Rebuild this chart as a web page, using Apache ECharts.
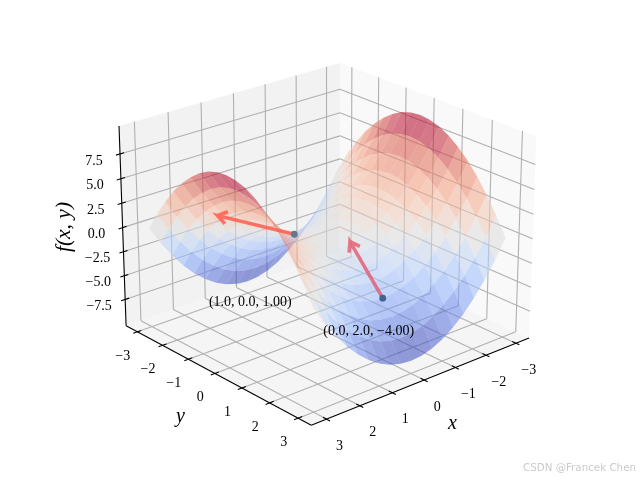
<!DOCTYPE html>
<html>
<head>
<meta charset="utf-8">
<style>html,body{margin:0;padding:0;background:#fff}#c{width:640px;height:480px}</style>
<script src="https://cdn.jsdelivr.net/npm/echarts@6/dist/echarts.min.js"></script>
</head>
<body>
<div id="c"></div>
<script>
// ---------- data ----------
const xTicks = [-3, -2, -1, 0, 1, 2, 3];
const yTicks = [-3, -2, -1, 0, 1, 2, 3];
const zTicks = [-7.5, -5, -2.5, 0, 2.5, 5, 7.5];
const zTickLabels = ['\u22127.5', '\u22125.0', '\u22122.5', '0.0', '2.5', '5.0', '7.5'];
const xTickLabels = ['\u22123', '\u22122', '\u22121', '0', '1', '2', '3'];
const yTickLabels = ['\u22123', '\u22122', '\u22121', '0', '1', '2', '3'];
const gridX = [-3, -2.67, -2.33, -2, -1.67, -1.33, -1, -0.67, -0.33, 0, 0.33, 0.67, 1, 1.33, 1.67, 2, 2.33, 2.67, 3];
const gridY = [-3, -2.67, -2.33, -2, -1.67, -1.33, -1, -0.67, -0.33, 0, 0.33, 0.67, 1, 1.33, 1.67, 2, 2.33, 2.67, 3];
const row0 = [0, 1.89, 3.56, 5, 6.22, 7.22, 8, 8.56, 8.89, 9, 8.89, 8.56, 8, 7.22, 6.22, 5, 3.56, 1.89, 0];
const row1 = [-1.89, 0, 1.67, 3.11, 4.33, 5.33, 6.11, 6.67, 7, 7.11, 7, 6.67, 6.11, 5.33, 4.33, 3.11, 1.67, 0, -1.89];
const row2 = [-3.56, -1.67, 0, 1.44, 2.66, 3.66, 4.44, 5, 5.33, 5.44, 5.33, 5, 4.44, 3.66, 2.66, 1.44, 0, -1.67, -3.56];
const row3 = [-5, -3.11, -1.44, 0, 1.22, 2.22, 3, 3.56, 3.89, 4, 3.89, 3.56, 3, 2.22, 1.22, 0, -1.44, -3.11, -5];
const row4 = [-6.22, -4.33, -2.66, -1.22, 0, 1, 1.78, 2.34, 2.67, 2.78, 2.67, 2.34, 1.78, 1, 0, -1.22, -2.66, -4.33, -6.22];
const row5 = [-7.22, -5.33, -3.66, -2.22, -1, 0, 0.78, 1.34, 1.67, 1.78, 1.67, 1.34, 0.78, 0, -1, -2.22, -3.66, -5.33, -7.22];
const row6 = [-8, -6.11, -4.44, -3, -1.78, -0.78, 0, 0.56, 0.89, 1, 0.89, 0.56, 0, -0.78, -1.78, -3, -4.44, -6.11, -8];
const row7 = [-8.56, -6.67, -5, -3.56, -2.34, -1.34, -0.56, 0, 0.33, 0.44, 0.33, 0, -0.56, -1.34, -2.34, -3.56, -5, -6.67, -8.56];
const row8 = [-8.89, -7, -5.33, -3.89, -2.67, -1.67, -0.89, -0.33, 0, 0.11, 0, -0.33, -0.89, -1.67, -2.67, -3.89, -5.33, -7, -8.89];
const row9 = [-9, -7.11, -5.44, -4, -2.78, -1.78, -1, -0.44, -0.11, 0, -0.11, -0.44, -1, -1.78, -2.78, -4, -5.44, -7.11, -9];
const surfaceZ = [row0, row1, row2, row3, row4, row5, row6, row7, row8, row9, row8, row7, row6, row5, row4, row3, row2, row1, row0];
const pointX = [1, 0];
const pointY = [0, 2];
const pointZ = [1, -4];
const tipX = [3.28, 0];
const tipY = [0, 0.84];
const tipZ = [5.36, 0.22];
const pointLabels = ['(1.0, 0.0, 1.00)', '(0.0, 2.0, \u22124.00)'];
const watermark = 'CSDN @Francek Chen';

// ---------- view ----------
const ELEV = 23 * Math.PI / 180, AZIM = 49 * Math.PI / 180, DIST = 10;
const VIEW_SCALE = 2442, CX = 326.5, CY = 233.2;
const XL = 3.45, ZL = 10.3, BOX_A = 0.595, BOX_C = 0.4465;
const se = Math.sin(ELEV), ce = Math.cos(ELEV), sa = Math.sin(AZIM), ca = Math.cos(AZIM);

function depth(x, y, z) {
  const px = x / XL * BOX_A, py = y / XL * BOX_A, pz = z / ZL * BOX_C;
  return ce * ca * px + ce * sa * py + se * pz;
}
function project(x, y, z) {
  const px = x / XL * BOX_A, py = y / XL * BOX_A, pz = z / ZL * BOX_C;
  const X = -sa * px + ca * py;
  const Y = -se * ca * px - se * sa * py + ce * pz;
  const d = DIST - depth(x, y, z);
  return [X / d, Y / d];
}

// ---------- coolwarm ----------
const coolwarm = [[59,76,192],[98,130,234],[141,176,254],[184,208,249],[221,221,221],[244,196,173],[244,154,123],[222,96,77],[180,4,38]];
function cmap(t, alpha) {
  const f = Math.min(0.9999, Math.max(0, t)) * (coolwarm.length - 1), i = Math.floor(f), r = f - i;
  const c = coolwarm[i].map((v, k) => Math.round(v + (coolwarm[i + 1][k] - v) * r));
  return 'rgba(' + c[0] + ',' + c[1] + ',' + c[2] + ',' + alpha + ')';
}

// ---------- derived geometry ----------
const panes = [
  {fill: '#f9f9f9', pts: [[-XL,-XL,-ZL],[-XL,XL,-ZL],[-XL,XL,ZL],[-XL,-XL,ZL]]},
  {fill: '#f2f2f2', pts: [[-XL,-XL,-ZL],[XL,-XL,-ZL],[XL,-XL,ZL],[-XL,-XL,ZL]]},
  {fill: '#f5f5f5', pts: [[-XL,-XL,-ZL],[XL,-XL,-ZL],[XL,XL,-ZL],[-XL,XL,-ZL]]}
];
const gridLines = [];
xTicks.forEach(x => { gridLines.push([[x,-XL,-ZL],[x,XL,-ZL]], [[x,-XL,-ZL],[x,-XL,ZL]]); });
yTicks.forEach(y => { gridLines.push([[-XL,y,-ZL],[XL,y,-ZL]], [[-XL,y,-ZL],[-XL,y,ZL]]); });
zTicks.forEach(z => { gridLines.push([[XL,-XL,z],[-XL,-XL,z]], [[-XL,-XL,z],[-XL,XL,z]]); });
const TICK = 0.12;
const axisLines = [
  [[XL,-XL,-ZL],[XL,-XL,ZL]], [[XL,-XL,-ZL],[XL,XL,-ZL]], [[XL,XL,-ZL],[-XL,XL,-ZL]]
];
xTicks.forEach(x => axisLines.push([[x,XL-TICK,-ZL],[x,XL+TICK,-ZL]]));
yTicks.forEach(y => axisLines.push([[XL-TICK,y,-ZL],[XL+TICK,y,-ZL]]));
zTicks.forEach(z => axisLines.push([[XL-TICK,-XL,z],[XL+TICK,-XL,z]]));

const tiles = [];
let zMin = Infinity, zMax = -Infinity;
for (let i = 0; i + 1 < gridX.length; i++) for (let j = 0; j + 1 < gridY.length; j++) {
  const q = [[i,j],[i+1,j],[i+1,j+1],[i,j+1]].map(p => [gridX[p[0]], gridY[p[1]], surfaceZ[p[0]][p[1]]]);
  const mean = q.reduce((s, p) => s + p[2], 0) / 4;
  const dep = q.reduce((s, p) => s + depth(p[0], p[1], p[2]), 0) / 4;
  zMin = Math.min(zMin, mean); zMax = Math.max(zMax, mean);
  tiles.push({q, mean, dep});
}
tiles.sort((a, b) => a.dep - b.dep);

const texts = [];
const FONT = '"Liberation Serif", serif';
xTicks.forEach((x, i) => texts.push({p: [x, XL, -ZL], dx: 13, dy: 27, t: xTickLabels[i]}));
yTicks.forEach((y, i) => texts.push({p: [XL, y, -ZL], dx: -14.5, dy: 24, t: yTickLabels[i]}));
zTicks.forEach((z, i) => texts.push({p: [XL, -XL, z], dx: -26, dy: 7, t: zTickLabels[i]}));
const pointLabelOffset = [[-44, 68], [-14, 33.5]];
pointX.forEach((x, i) => texts.push({p: [x, pointY[i], pointZ[i]], dx: pointLabelOffset[i][0], dy: pointLabelOffset[i][1], t: pointLabels[i]}));

const indexData = a => a.map((_, i) => [i, i]);
const poly = (api, pts) => pts.map(p => api.coord(project(p[0], p[1], p[2])));

function custom(name, arr, z, render) {
  return {type: 'custom', name, coordinateSystem: 'cartesian2d', data: indexData(arr), z, clip: false, silent: true, animation: false, renderItem: render};
}

const series = [
  custom('panes', panes, 1, (params, api) => ({type: 'polygon', shape: {points: poly(api, panes[params.dataIndex].pts)}, style: {fill: panes[params.dataIndex].fill}})),
  custom('grid', gridLines, 2, (params, api) => ({type: 'polyline', shape: {points: poly(api, gridLines[params.dataIndex])}, style: {stroke: '#b0b0b0', lineWidth: 1.1, fill: 'none'}})),
  custom('axes', axisLines, 3, (params, api) => ({type: 'polyline', shape: {points: poly(api, axisLines[params.dataIndex])}, style: {stroke: '#000', lineWidth: 1.1, fill: 'none'}})),
  custom('surface', tiles, 4, (params, api) => {
    const t = tiles[params.dataIndex];
    return {type: 'polygon', shape: {points: poly(api, t.q)}, style: {fill: cmap((t.mean - zMin) / (zMax - zMin), 0.55)}};
  }),
  custom('arrows', pointX, 5, (params, api) => {
    const i = params.dataIndex;
    const a = api.coord(project(pointX[i], pointY[i], pointZ[i]));
    const b = api.coord(project(tipX[i], tipY[i], tipZ[i]));
    const ang = Math.atan2(a[1] - b[1], a[0] - b[0]);
    const L = 11, spread = 0.6;
    const c1 = [b[0] + L * Math.cos(ang + spread), b[1] + L * Math.sin(ang + spread)];
    const c2 = [b[0] + L * Math.cos(ang - spread), b[1] + L * Math.sin(ang - spread)];
    const col = ['rgba(255,85,70,0.8)', 'rgba(228,75,95,0.72)'][i];
    return {type: 'polyline', shape: {points: [a, b, c1, b, c2]}, style: {stroke: col, lineWidth: 3.6, fill: 'none', lineJoin: 'miter'}};
  }),
  custom('points', pointX, 6, (params, api) => {
    const i = params.dataIndex;
    const a = api.coord(project(pointX[i], pointY[i], pointZ[i]));
    return {type: 'circle', shape: {cx: a[0], cy: a[1], r: 3.4}, style: {fill: ['#64788c', '#44628f'][i]}};
  }),
  custom('labels', texts, 7, (params, api) => {
    const t = texts[params.dataIndex];
    const a = api.coord(project(t.p[0], t.p[1], t.p[2]));
    return {type: 'text', style: {x: a[0] + t.dx, y: a[1] + t.dy, text: t.t, fill: '#000', font: '14px ' + FONT, align: 'center', verticalAlign: 'middle'}};
  })
];

const chart = echarts.init(document.getElementById('c'), null, {renderer: 'canvas', width: 640, height: 480});
chart.setOption({
  backgroundColor: '#fff',
  animation: false,
  grid: {left: 0, right: 0, top: 0, bottom: 0, containLabel: false},
  xAxis: {type: 'value', min: -CX / VIEW_SCALE, max: (640 - CX) / VIEW_SCALE, show: false},
  yAxis: {type: 'value', min: -(480 - CY) / VIEW_SCALE, max: CY / VIEW_SCALE, show: false},
  series,
  graphic: [
    {type: 'text', z: 10, x: 64, y: 227, rotation: Math.PI / 2, style: {text: 'f(x, y)', fill: '#000', font: 'italic 21.5px ' + FONT, align: 'center', verticalAlign: 'middle'}},
    {type: 'text', z: 10, x: 180.5, y: 417, style: {text: 'y', fill: '#000', font: 'italic 20px ' + FONT, align: 'center', verticalAlign: 'middle'}},
    {type: 'text', z: 10, x: 452.5, y: 424, style: {text: 'x', fill: '#000', font: 'italic 20px ' + FONT, align: 'center', verticalAlign: 'middle'}},
    {type: 'text', z: 10, x: 636, y: 468.5, style: {text: watermark, fill: '#cbcbcb', font: '10.3px "DejaVu Sans", sans-serif', align: 'right', verticalAlign: 'middle'}}
  ]
});
</script>
</body>
</html>
